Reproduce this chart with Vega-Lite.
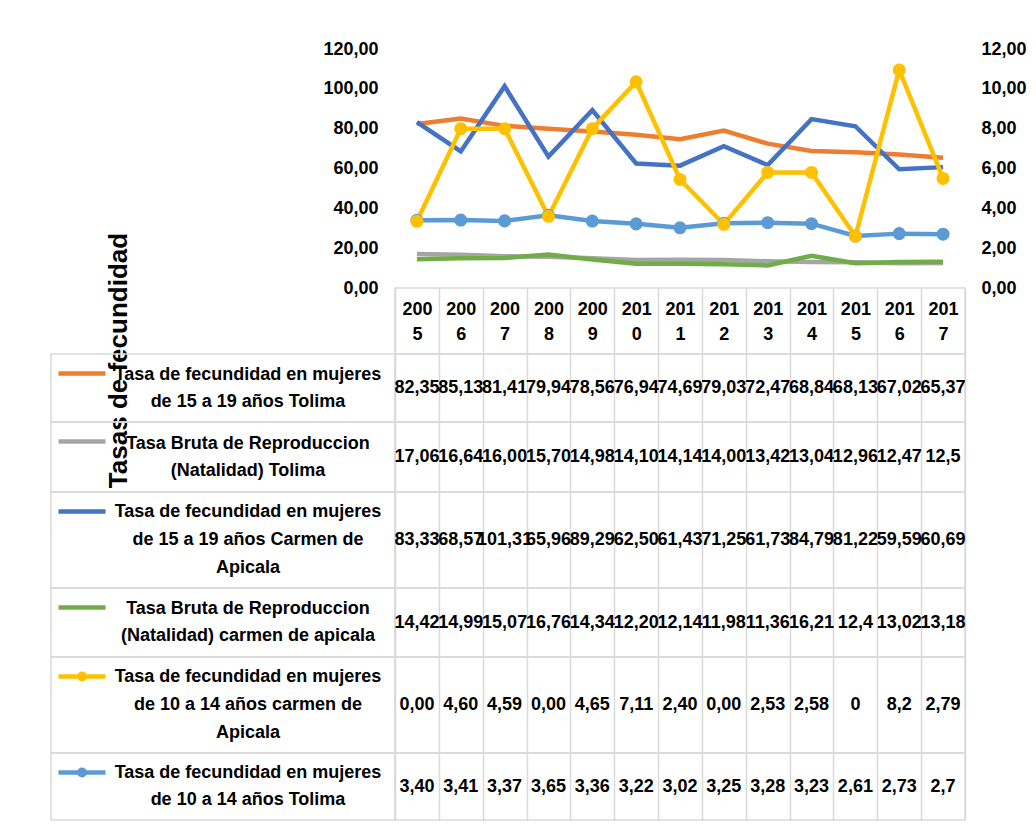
{
 "$schema": "https://vega.github.io/schema/vega-lite/v6.json",
 "background": "white",
 "padding": {"left": 48, "top": 40, "right": 2, "bottom": 5},
 "spacing": 0,
 "bounds": "flush",
 "columns": 2,
 "config": {
  "view": {"stroke": null},
  "font": "Liberation Sans",
  "locale": {"number": {"decimal": ",", "thousands": ".", "grouping": [3], "currency": ["", ""]}},
  "axis": {"labelColor": "#000", "titleColor": "#000"}
 },
 "datasets": {
  "vals": [
   {"s":"A","year":"2005","v":82.35,"t":"82,35"},{"s":"A","year":"2006","v":85.13,"t":"85,13"},{"s":"A","year":"2007","v":81.41,"t":"81,41"},{"s":"A","year":"2008","v":79.94,"t":"79,94"},{"s":"A","year":"2009","v":78.56,"t":"78,56"},{"s":"A","year":"2010","v":76.94,"t":"76,94"},{"s":"A","year":"2011","v":74.69,"t":"74,69"},{"s":"A","year":"2012","v":79.03,"t":"79,03"},{"s":"A","year":"2013","v":72.47,"t":"72,47"},{"s":"A","year":"2014","v":68.84,"t":"68,84"},{"s":"A","year":"2015","v":68.13,"t":"68,13"},{"s":"A","year":"2016","v":67.02,"t":"67,02"},{"s":"A","year":"2017","v":65.37,"t":"65,37"},
   {"s":"B","year":"2005","v":17.06,"t":"17,06"},{"s":"B","year":"2006","v":16.64,"t":"16,64"},{"s":"B","year":"2007","v":16.00,"t":"16,00"},{"s":"B","year":"2008","v":15.70,"t":"15,70"},{"s":"B","year":"2009","v":14.98,"t":"14,98"},{"s":"B","year":"2010","v":14.10,"t":"14,10"},{"s":"B","year":"2011","v":14.14,"t":"14,14"},{"s":"B","year":"2012","v":14.00,"t":"14,00"},{"s":"B","year":"2013","v":13.42,"t":"13,42"},{"s":"B","year":"2014","v":13.04,"t":"13,04"},{"s":"B","year":"2015","v":12.96,"t":"12,96"},{"s":"B","year":"2016","v":12.47,"t":"12,47"},{"s":"B","year":"2017","v":12.5,"t":"12,5"},
   {"s":"C","year":"2005","v":83.33,"t":"83,33"},{"s":"C","year":"2006","v":68.57,"t":"68,57"},{"s":"C","year":"2007","v":101.31,"t":"101,31"},{"s":"C","year":"2008","v":65.96,"t":"65,96"},{"s":"C","year":"2009","v":89.29,"t":"89,29"},{"s":"C","year":"2010","v":62.50,"t":"62,50"},{"s":"C","year":"2011","v":61.43,"t":"61,43"},{"s":"C","year":"2012","v":71.25,"t":"71,25"},{"s":"C","year":"2013","v":61.73,"t":"61,73"},{"s":"C","year":"2014","v":84.79,"t":"84,79"},{"s":"C","year":"2015","v":81.22,"t":"81,22"},{"s":"C","year":"2016","v":59.59,"t":"59,59"},{"s":"C","year":"2017","v":60.69,"t":"60,69"},
   {"s":"D","year":"2005","v":14.42,"t":"14,42"},{"s":"D","year":"2006","v":14.99,"t":"14,99"},{"s":"D","year":"2007","v":15.07,"t":"15,07"},{"s":"D","year":"2008","v":16.76,"t":"16,76"},{"s":"D","year":"2009","v":14.34,"t":"14,34"},{"s":"D","year":"2010","v":12.20,"t":"12,20"},{"s":"D","year":"2011","v":12.14,"t":"12,14"},{"s":"D","year":"2012","v":11.98,"t":"11,98"},{"s":"D","year":"2013","v":11.36,"t":"11,36"},{"s":"D","year":"2014","v":16.21,"t":"16,21"},{"s":"D","year":"2015","v":12.4,"t":"12,4"},{"s":"D","year":"2016","v":13.02,"t":"13,02"},{"s":"D","year":"2017","v":13.18,"t":"13,18"},
   {"s":"E","year":"2005","v":3.40,"t":"3,40"},{"s":"E","year":"2006","v":3.41,"t":"3,41"},{"s":"E","year":"2007","v":3.37,"t":"3,37"},{"s":"E","year":"2008","v":3.65,"t":"3,65"},{"s":"E","year":"2009","v":3.36,"t":"3,36"},{"s":"E","year":"2010","v":3.22,"t":"3,22"},{"s":"E","year":"2011","v":3.02,"t":"3,02"},{"s":"E","year":"2012","v":3.25,"t":"3,25"},{"s":"E","year":"2013","v":3.28,"t":"3,28"},{"s":"E","year":"2014","v":3.23,"t":"3,23"},{"s":"E","year":"2015","v":2.61,"t":"2,61"},{"s":"E","year":"2016","v":2.73,"t":"2,73"},{"s":"E","year":"2017","v":2.7,"t":"2,7"},
   {"s":"F","year":"2005","v":3.35,"t":"0,00"},{"s":"F","year":"2006","v":8.0,"t":"4,60"},{"s":"F","year":"2007","v":8.0,"t":"4,59"},{"s":"F","year":"2008","v":3.6,"t":"0,00"},{"s":"F","year":"2009","v":8.0,"t":"4,65"},{"s":"F","year":"2010","v":10.35,"t":"7,11"},{"s":"F","year":"2011","v":5.45,"t":"2,40"},{"s":"F","year":"2012","v":3.2,"t":"0,00"},{"s":"F","year":"2013","v":5.8,"t":"2,53"},{"s":"F","year":"2014","v":5.8,"t":"2,58"},{"s":"F","year":"2015","v":2.6,"t":"0"},{"s":"F","year":"2016","v":10.95,"t":"8,2"},{"s":"F","year":"2017","v":5.5,"t":"2,79"}
  ],
  "names": [
   {"s":"A","name":"Tasa de fecundidad en mujeres\nde 15 a 19 años Tolima"},
   {"s":"B","name":"Tasa Bruta de Reproduccion\n(Natalidad) Tolima"},
   {"s":"C","name":"Tasa de fecundidad en mujeres\nde 15 a 19 años Carmen de\nApicala"},
   {"s":"D","name":"Tasa Bruta de Reproduccion\n(Natalidad) carmen de apicala"},
   {"s":"F","name":"Tasa de fecundidad en mujeres\nde 10 a 14 años carmen de\nApicala"},
   {"s":"E","name":"Tasa de fecundidad en mujeres\nde 10 a 14 años Tolima"}
  ]
 },
 "concat": [
  {"width": 344, "height": 239, "data": {"values": [{}]}, "mark": {"type": "text", "text": " "}},
  {"width": 570, "height": 239, "data": {"name": "vals"},
   "encoding": {"x": {"field": "year", "type": "ordinal", "scale": {"type": "point", "padding": 0.5}, "axis": null}},
   "layer": [
    {"transform": [{"filter": {"field": "s", "oneOf": ["A","B","C","D"]}}],
     "mark": {"type": "line", "strokeWidth": 4.5},
     "encoding": {
      "y": {"field": "v", "type": "quantitative", "scale": {"domain": [0,120]},
            "axis": {"orient": "left", "values": [0,20,40,60,80,100,120], "format": ".2f", "grid": false, "domain": false, "ticks": false, "labelPadding": 17, "labelFontSize": 18, "labelFontWeight": "bold",
                     "title": "Tasas de fecundidad", "titleFontSize": 26, "titleFontWeight": "bold", "titleAngle": 270, "titleX": -277, "titleY": 311, "titleAlign": "center", "titleBaseline": "middle"}},
      "color": {"field":"s","type":"nominal","scale":{"domain":["A","B","C","D","E","F"],"range":["#ED7D31","#A5A5A5","#4472C4","#70AD47","#5B9BD5","#FFC000"]},"legend":null}
     }},
    {"transform": [{"filter": {"field": "s", "oneOf": ["E","F"]}}],
     "mark": {"type": "line", "strokeWidth": 4.5, "point": {"filled": true, "size": 170, "opacity": 1}},
     "encoding": {
      "y": {"field": "v", "type": "quantitative", "scale": {"domain": [0,12]},
            "axis": {"orient": "right", "values": [0,2,4,6,8,10,12], "format": ".2f", "grid": false, "domain": false, "ticks": false, "labelPadding": 16, "labelFontSize": 18, "labelFontWeight": "bold", "title": null}},
      "color": {"field":"s","type":"nominal","scale":{"domain":["A","B","C","D","E","F"],"range":["#ED7D31","#A5A5A5","#4472C4","#70AD47","#5B9BD5","#FFC000"]},"legend":null}
     }}
   ],
   "resolve": {"scale": {"y": "independent"}}},
  {"width": 344, "height": 66, "data": {"values": [{}]}, "mark": {"type": "text", "text": " "}},
  {"width": 570, "height": 66, "view": {"stroke": "#d9d9d9", "strokeWidth": 1.5},
   "data": {"name": "vals"}, "transform": [{"filter": "datum.s == 'A'"}],
   "mark": {"type": "text", "text": " "},
   "encoding": {"x": {"field": "year", "type": "ordinal", "scale": {"type": "band", "paddingInner": 0, "paddingOuter": 0},
     "axis": {"orient": "top", "title": null, "domain": false, "ticks": false, "grid": true, "tickBand": "extent", "gridColor": "#d9d9d9", "gridWidth": 1.5,
              "labelExpr": "[slice(datum.label,0,3), slice(datum.label,3)]", "labelPadding": -21, "labelBaseline": "middle", "labelAngle": 0, "labelFontSize": 18, "labelFontWeight": "bold", "labelLineHeight": 25, "labelOverlap": false}}}},
  {"width": 344, "height": 68, "view": {"stroke": "#d9d9d9", "strokeWidth": 1.5}, "data": {"name": "names"}, "transform": [{"filter": "datum.s == 'A'"}],
   "layer": [
    {"mark": {"type": "text", "lineBreak": "\n", "fontSize": 18, "fontWeight": "bold", "lineHeight": 27, "dx": 25, "dy": -13.5}, "encoding": {"text": {"field": "name"}}},
    {"mark": {"type": "point", "shape": "stroke", "size": 2209, "strokeWidth": 4.5, "opacity": 1, "xOffset": -141, "yOffset": -14.5},
     "encoding": {"color": {"field":"s","type":"nominal","scale":{"domain":["A","B","C","D","E","F"],"range":["#ED7D31","#A5A5A5","#4472C4","#70AD47","#5B9BD5","#FFC000"]},"legend":null}}}
   ]},
  {"width": 570, "height": 68, "view": {"stroke": "#d9d9d9", "strokeWidth": 1.5}, "data": {"name": "vals"}, "transform": [{"filter": "datum.s == 'A'"}],
   "mark": {"type": "text", "fontSize": 18, "fontWeight": "bold"},
   "encoding": {"x": {"field": "year", "type": "ordinal", "bandPosition": 0.5, "scale": {"type": "band", "paddingInner": 0, "paddingOuter": 0}, "axis": {"title": null, "labels": false, "ticks": false, "domain": false, "grid": true, "tickBand": "extent", "gridColor": "#d9d9d9", "gridWidth": 1.5}}, "text": {"field": "t"}}},
  {"width": 344, "height": 70, "view": {"stroke": "#d9d9d9", "strokeWidth": 1.5}, "data": {"name": "names"}, "transform": [{"filter": "datum.s == 'B'"}],
   "layer": [
    {"mark": {"type": "text", "lineBreak": "\n", "fontSize": 18, "fontWeight": "bold", "lineHeight": 27, "dx": 25, "dy": -13.5}, "encoding": {"text": {"field": "name"}}},
    {"mark": {"type": "point", "shape": "stroke", "size": 2209, "strokeWidth": 4.5, "opacity": 1, "xOffset": -141, "yOffset": -15.5},
     "encoding": {"color": {"field":"s","type":"nominal","scale":{"domain":["A","B","C","D","E","F"],"range":["#ED7D31","#A5A5A5","#4472C4","#70AD47","#5B9BD5","#FFC000"]},"legend":null}}}
   ]},
  {"width": 570, "height": 70, "view": {"stroke": "#d9d9d9", "strokeWidth": 1.5}, "data": {"name": "vals"}, "transform": [{"filter": "datum.s == 'B'"}],
   "mark": {"type": "text", "fontSize": 18, "fontWeight": "bold"},
   "encoding": {"x": {"field": "year", "type": "ordinal", "bandPosition": 0.5, "scale": {"type": "band", "paddingInner": 0, "paddingOuter": 0}, "axis": {"title": null, "labels": false, "ticks": false, "domain": false, "grid": true, "tickBand": "extent", "gridColor": "#d9d9d9", "gridWidth": 1.5}}, "text": {"field": "t"}}},
  {"width": 344, "height": 96, "view": {"stroke": "#d9d9d9", "strokeWidth": 1.5}, "data": {"name": "names"}, "transform": [{"filter": "datum.s == 'C'"}],
   "layer": [
    {"mark": {"type": "text", "lineBreak": "\n", "fontSize": 18, "fontWeight": "bold", "lineHeight": 28, "dx": 25, "dy": -28}, "encoding": {"text": {"field": "name"}}},
    {"mark": {"type": "point", "shape": "stroke", "size": 2209, "strokeWidth": 4.5, "opacity": 1, "xOffset": -141, "yOffset": -28.5},
     "encoding": {"color": {"field":"s","type":"nominal","scale":{"domain":["A","B","C","D","E","F"],"range":["#ED7D31","#A5A5A5","#4472C4","#70AD47","#5B9BD5","#FFC000"]},"legend":null}}}
   ]},
  {"width": 570, "height": 96, "view": {"stroke": "#d9d9d9", "strokeWidth": 1.5}, "data": {"name": "vals"}, "transform": [{"filter": "datum.s == 'C'"}],
   "mark": {"type": "text", "fontSize": 18, "fontWeight": "bold"},
   "encoding": {"x": {"field": "year", "type": "ordinal", "bandPosition": 0.5, "scale": {"type": "band", "paddingInner": 0, "paddingOuter": 0}, "axis": {"title": null, "labels": false, "ticks": false, "domain": false, "grid": true, "tickBand": "extent", "gridColor": "#d9d9d9", "gridWidth": 1.5}}, "text": {"field": "t"}}},
  {"width": 344, "height": 69, "view": {"stroke": "#d9d9d9", "strokeWidth": 1.5}, "data": {"name": "names"}, "transform": [{"filter": "datum.s == 'D'"}],
   "layer": [
    {"mark": {"type": "text", "lineBreak": "\n", "fontSize": 18, "fontWeight": "bold", "lineHeight": 27, "dx": 25, "dy": -13.5}, "encoding": {"text": {"field": "name"}}},
    {"mark": {"type": "point", "shape": "stroke", "size": 2209, "strokeWidth": 4.5, "opacity": 1, "xOffset": -141, "yOffset": -15},
     "encoding": {"color": {"field":"s","type":"nominal","scale":{"domain":["A","B","C","D","E","F"],"range":["#ED7D31","#A5A5A5","#4472C4","#70AD47","#5B9BD5","#FFC000"]},"legend":null}}}
   ]},
  {"width": 570, "height": 69, "view": {"stroke": "#d9d9d9", "strokeWidth": 1.5}, "data": {"name": "vals"}, "transform": [{"filter": "datum.s == 'D'"}],
   "mark": {"type": "text", "fontSize": 18, "fontWeight": "bold"},
   "encoding": {"x": {"field": "year", "type": "ordinal", "bandPosition": 0.5, "scale": {"type": "band", "paddingInner": 0, "paddingOuter": 0}, "axis": {"title": null, "labels": false, "ticks": false, "domain": false, "grid": true, "tickBand": "extent", "gridColor": "#d9d9d9", "gridWidth": 1.5}}, "text": {"field": "t"}}},
  {"width": 344, "height": 96, "view": {"stroke": "#d9d9d9", "strokeWidth": 1.5}, "data": {"name": "names"}, "transform": [{"filter": "datum.s == 'F'"}],
   "layer": [
    {"mark": {"type": "text", "lineBreak": "\n", "fontSize": 18, "fontWeight": "bold", "lineHeight": 28, "dx": 25, "dy": -28}, "encoding": {"text": {"field": "name"}}},
    {"mark": {"type": "point", "shape": "stroke", "size": 2209, "strokeWidth": 4.5, "opacity": 1, "xOffset": -141, "yOffset": -28.5},
     "encoding": {"color": {"field":"s","type":"nominal","scale":{"domain":["A","B","C","D","E","F"],"range":["#ED7D31","#A5A5A5","#4472C4","#70AD47","#5B9BD5","#FFC000"]},"legend":null}}},
    {"mark": {"type": "point", "shape": "circle", "filled": true, "size": 100, "opacity": 1, "xOffset": -141, "yOffset": -28.5},
     "encoding": {"color": {"field":"s","type":"nominal","scale":{"domain":["A","B","C","D","E","F"],"range":["#ED7D31","#A5A5A5","#4472C4","#70AD47","#5B9BD5","#FFC000"]},"legend":null}}}
   ]},
  {"width": 570, "height": 96, "view": {"stroke": "#d9d9d9", "strokeWidth": 1.5}, "data": {"name": "vals"}, "transform": [{"filter": "datum.s == 'F'"}],
   "mark": {"type": "text", "fontSize": 18, "fontWeight": "bold"},
   "encoding": {"x": {"field": "year", "type": "ordinal", "bandPosition": 0.5, "scale": {"type": "band", "paddingInner": 0, "paddingOuter": 0}, "axis": {"title": null, "labels": false, "ticks": false, "domain": false, "grid": true, "tickBand": "extent", "gridColor": "#d9d9d9", "gridWidth": 1.5}}, "text": {"field": "t"}}},
  {"width": 344, "height": 67, "view": {"stroke": "#d9d9d9", "strokeWidth": 1.5}, "data": {"name": "names"}, "transform": [{"filter": "datum.s == 'E'"}],
   "layer": [
    {"mark": {"type": "text", "lineBreak": "\n", "fontSize": 18, "fontWeight": "bold", "lineHeight": 27, "dx": 25, "dy": -13.5}, "encoding": {"text": {"field": "name"}}},
    {"mark": {"type": "point", "shape": "stroke", "size": 2209, "strokeWidth": 4.5, "opacity": 1, "xOffset": -141, "yOffset": -14},
     "encoding": {"color": {"field":"s","type":"nominal","scale":{"domain":["A","B","C","D","E","F"],"range":["#ED7D31","#A5A5A5","#4472C4","#70AD47","#5B9BD5","#FFC000"]},"legend":null}}},
    {"mark": {"type": "point", "shape": "circle", "filled": true, "size": 100, "opacity": 1, "xOffset": -141, "yOffset": -14},
     "encoding": {"color": {"field":"s","type":"nominal","scale":{"domain":["A","B","C","D","E","F"],"range":["#ED7D31","#A5A5A5","#4472C4","#70AD47","#5B9BD5","#FFC000"]},"legend":null}}}
   ]},
  {"width": 570, "height": 67, "view": {"stroke": "#d9d9d9", "strokeWidth": 1.5}, "data": {"name": "vals"}, "transform": [{"filter": "datum.s == 'E'"}],
   "mark": {"type": "text", "fontSize": 18, "fontWeight": "bold"},
   "encoding": {"x": {"field": "year", "type": "ordinal", "bandPosition": 0.5, "scale": {"type": "band", "paddingInner": 0, "paddingOuter": 0}, "axis": {"title": null, "labels": false, "ticks": false, "domain": false, "grid": true, "tickBand": "extent", "gridColor": "#d9d9d9", "gridWidth": 1.5}}, "text": {"field": "t"}}}
 ]
}
